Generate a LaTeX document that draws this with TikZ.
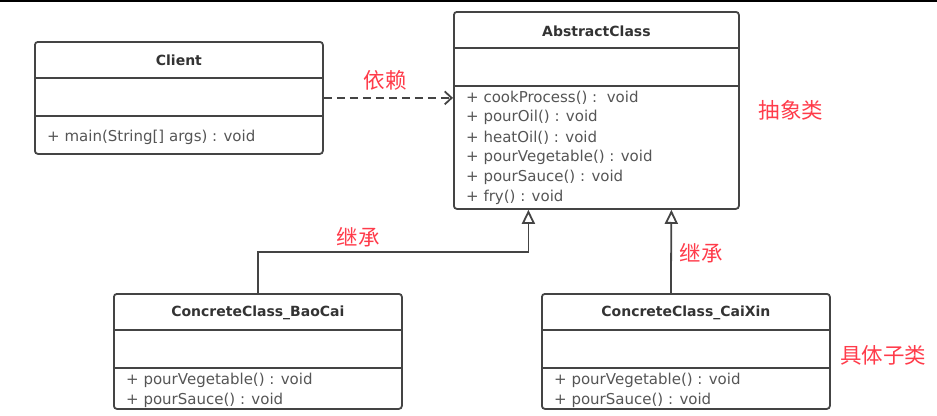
\documentclass[tikz,border=0pt]{standalone}
\usepackage{fontspec}
\setmainfont{DejaVu Sans}
\newfontfamily\cjk{Noto Sans CJK SC}
\usetikzlibrary{arrows.meta,calc}
\definecolor{boxline}{HTML}{444444}
\definecolor{titletext}{HTML}{333333}
\definecolor{methodtext}{HTML}{555555}
\definecolor{notered}{HTML}{FF3B4A}

\begin{document}
\begin{tikzpicture}[x=1pt,y=-1pt,
  classbox/.style={draw=boxline,line width=1.8pt,rounded corners=3pt,minimum width=288pt,anchor=north west,inner sep=0pt},
  classname/.style={font=\fontsize{14}{16}\selectfont\bfseries,text=titletext,inner sep=0pt},
  method/.style={font=\fontsize{15}{17}\selectfont,text=methodtext,anchor=west,inner sep=0pt},
  divider/.style={draw=boxline,line width=1.8pt},
  note/.style={font=\cjk\fontsize{21.5}{24}\selectfont,text=notered,inner sep=0pt},
  inherit/.style={draw=boxline,line width=1.8pt,-{Triangle[open,length=14pt,width=13pt]}},
  depend/.style={draw=boxline,line width=1.8pt,dash pattern=on 8pt off 5pt,-{Straight Barb[length=7pt,width=13pt]}}]
\useasboundingbox (0,0) rectangle (937,415);
\draw[black,line width=1.5pt] (0,0.75) -- (937,0.75);

% client
\node[classbox,minimum height=112pt] (client) at (34,41) {};
\node[classname] (clientname) at ($(client.north)+(0,19)$) {Client};
\draw[divider] ($(client.north west)+(0,37)$) -- ($(client.north east)+(0,37)$);
\draw[divider] ($(client.north west)+(0,75)$) -- ($(client.north east)+(0,75)$);
\node[method] (clientmain) at ($(client.north west)+(13,96)$) {+ main(String[] args) : void};

% abstract class
\node[classbox,minimum width=285pt,minimum height=197pt] (abs) at (453,11) {};
\node[classname] (absname) at ($(abs.north)+(0,20)$) {AbstractClass};
\draw[divider] ($(abs.north west)+(0,37)$) -- ($(abs.north east)+(0,37)$);
\draw[divider] ($(abs.north west)+(0,75)$) -- ($(abs.north east)+(0,75)$);
\foreach \m [count=\i from 0] in {+ cookProcess() :\ \ void,+ pourOil() : void,+ heatOil() : void,+ pourVegetable() : void,+ pourSauce() : void,+ fry() : void}
  \node[method] (absm\i) at ($(abs.north west)+(13,87+19.8*\i)$) {\m};

% concrete classes
\node[classbox,minimum height=115pt] (baocai) at (113,293) {};
\node[classbox,minimum height=115pt] (caixin) at (541,293) {};
\foreach \c/\t in {baocai/ConcreteClass\_BaoCai,caixin/ConcreteClass\_CaiXin} {
  \node[classname] (\c name) at ($(\c.north)+(0,20)$) {\t};
  \draw[divider] ($(\c.north west)+(0,37)$) -- ($(\c.north east)+(0,37)$);
  \draw[divider] ($(\c.north west)+(0,75)$) -- ($(\c.north east)+(0,75)$);
  \node[method] (\c m0) at ($(\c.north west)+(13,87)$) {+ pourVegetable() : void};
  \node[method] (\c m1) at ($(\c.north west)+(13,107)$) {+ pourSauce() : void};
}

% connectors
\draw[depend] (client.east) -- (client.east -| abs.west);
\coordinate (bendend) at ($(abs.south)+(-68,0)$);
\draw[inherit] (baocai.north) |- ($(bendend)+(0,42)$) -- (bendend);
\draw[inherit] ($(caixin.north)+(-15,0)$) -- ($(abs.south)+(75,0)$);

% notes
\node[note] (dependnote) at (385,80) {依赖};
\node[note] (inheritnote1) at (358,237) {继承};
\node[note] (inheritnote2) at (701,253) {继承};
\node[note] (absnote) at (791,110) {抽象类};
\node[note] (concretenote) at (883,355) {具体子类};
\end{tikzpicture}
\end{document}
